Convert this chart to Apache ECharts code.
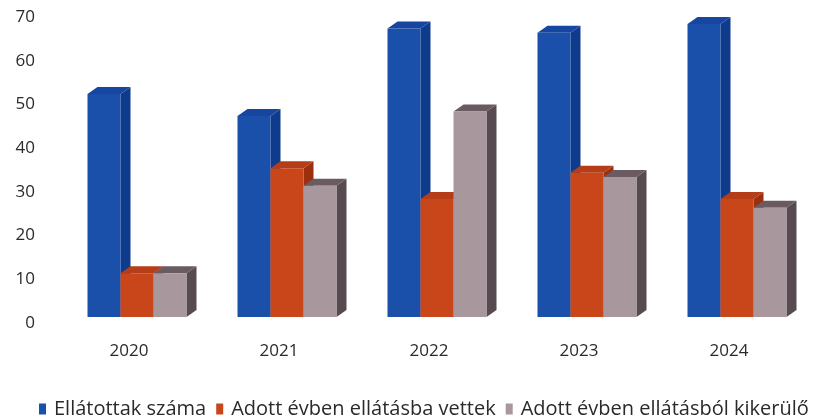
<!DOCTYPE html>
<html>
<head>
<meta charset="utf-8">
<script src="https://cdn.jsdelivr.net/npm/echarts@6/dist/echarts.min.js"></script>
<style>
  html, body { margin: 0; padding: 0; background: #fff; }
  #chart { width: 834px; height: 417px; }
</style>
</head>
<body>
<div id="chart"></div>
<script>
    'use strict';

    // data
    const years = ['2020', '2021', '2022', '2023', '2024'];
    const ellatottak = [51, 46, 66, 65, 67];
    const ellatasbaVettek = [10, 34, 27, 33, 27];
    const ellatasbolKikerulo = [10, 30, 47, 32, 25];
    const seriesNames = ['Ellátottak száma', 'Adott évben ellátásba vettek', 'Adott évben ellátásból kikerülő'];

    // front / side / top shades
    const shades = [
        ['#1a50aa', '#0e3b8c', '#1746a0'],
        ['#c8461a', '#9c300c', '#b53d18'],
        ['#a8979d', '#574a50', '#6a5b62']
    ];

    const barW = 33, depthX = 10, depthY = -7, lift = 6;

    function build3dBar(slot) {
        return function (params, api) {
            let idx = api.value(0);
            let base = api.coord([idx, 0]);
            let top = api.coord([idx, api.value(1)]);
            let L = base[0] - barW * 1.5 + slot * barW;
            let R = L + barW;
            let B = base[1] - lift;
            let T = top[1] - lift;
            let c = shades[slot];
            return {
                type: 'group',
                children: [
                    { type: 'polygon', shape: { points: [[R, T], [R + depthX, T + depthY], [R + depthX, B + depthY], [R, B]] }, style: { fill: c[1] } },
                    { type: 'polygon', shape: { points: [[L, T], [R, T], [R + depthX, T + depthY], [L + depthX, T + depthY]] }, style: { fill: c[2] } },
                    { type: 'rect', shape: { x: L, y: T, width: barW, height: B - T }, style: { fill: c[0] } }
                ]
            };
        };
    }

    function seriesOf(values, slot) {
        return {
            type: 'custom',
            name: seriesNames[slot],
            itemStyle: { color: shades[slot][0] },
            renderItem: build3dBar(slot),
            encode: { x: 0, y: 1 },
            data: values.map((v, i) => [i, v])
        };
    }

    let chart = echarts.init(document.getElementById('chart'));
    chart.setOption({
        animation: false,
        textStyle: { fontFamily: 'Open Sans' },
        grid: { left: 62, right: 22, top: 17, bottom: 94 },
        xAxis: {
            type: 'category',
            data: years,
            axisLine: { show: false },
            axisTick: { show: false },
            axisLabel: { color: '#2a2a2a', fontSize: 17, margin: 20, padding: [0, 16, 0, 0] }
        },
        yAxis: {
            type: 'value',
            min: 0,
            max: 70,
            interval: 10,
            splitLine: { show: false },
            axisLine: { show: false },
            axisTick: { show: false },
            axisLabel: { color: '#2a2a2a', fontSize: 17, margin: 27 }
        },
        legend: {
            left: 34,
            top: 394,
            icon: 'rect',
            itemWidth: 7,
            itemHeight: 11,
            itemGap: 10,
            textStyle: { color: '#2a2a2a', fontSize: 20, fontFamily: 'Open Sans', padding: [0, 0, 0, 3] },
            data: seriesNames
        },
        series: [
            seriesOf(ellatottak, 0),
            seriesOf(ellatasbaVettek, 1),
            seriesOf(ellatasbolKikerulo, 2)
        ]
    });
</script>
</body>
</html>
